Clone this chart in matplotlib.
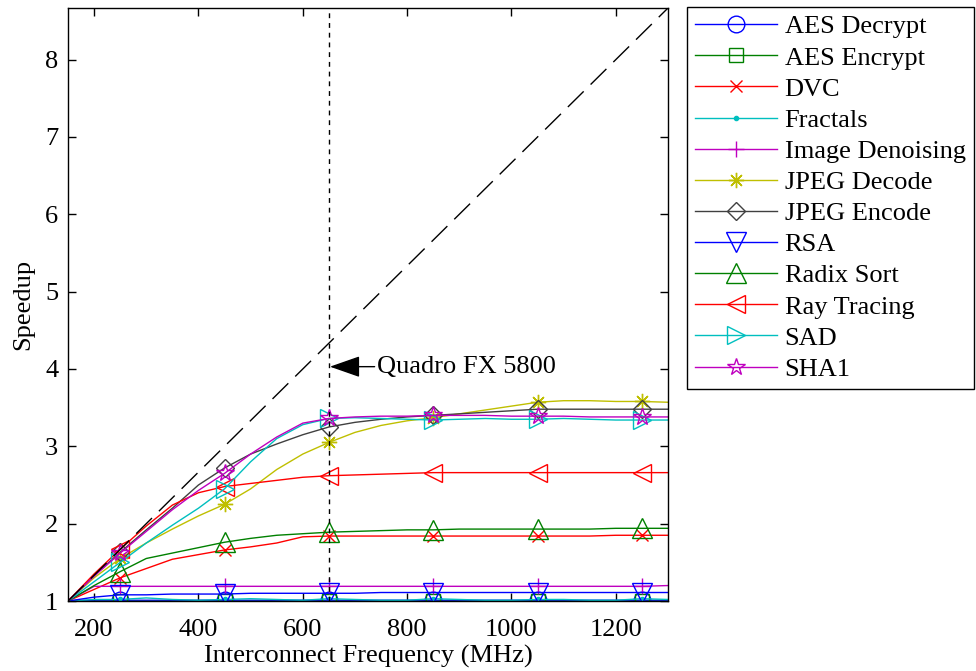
import matplotlib
matplotlib.use('Agg')
import matplotlib.pyplot as plt

plt.rcParams['font.family'] = ['Liberation Serif', 'DejaVu Serif']
plt.rcParams['font.size'] = 19

freq = [150, 200, 250, 300, 350, 400, 450, 500, 550, 600, 650, 700,
        750, 800, 850, 900, 950, 1000, 1050, 1100, 1150, 1200, 1250, 1300]

aes_decrypt = [1.0, 1.01, 1.01, 1.01, 1.01, 1.01, 1.01, 1.01, 1.01, 1.01, 1.01, 1.01,
               1.01, 1.01, 1.01, 1.01, 1.01, 1.01, 1.01, 1.01, 1.01, 1.01, 1.01, 1.01]
aes_encrypt = [1.0, 1.0, 1.0, 1.0, 1.0, 1.0, 1.0, 1.0, 1.0, 1.0, 1.0, 1.0,
               1.0, 1.0, 1.0, 1.0, 1.0, 1.0, 1.0, 1.0, 1.0, 1.0, 1.0, 1.0]
dvc = [1.0, 1.15, 1.3, 1.42, 1.54, 1.6, 1.66, 1.7, 1.75, 1.83, 1.84, 1.84,
       1.84, 1.84, 1.84, 1.84, 1.84, 1.84, 1.84, 1.84, 1.84, 1.85, 1.85, 1.85]
fractals = [1.0, 1.02, 1.02, 1.04, 1.02, 1.01, 1.02, 1.03, 1.02, 1.01, 1.03, 1.02,
            1.01, 1.01, 1.03, 1.02, 1.01, 1.01, 1.02, 1.02, 1.01, 1.01, 1.03, 1.02]
denoise = [1.0, 1.19, 1.19, 1.19, 1.19, 1.19, 1.19, 1.19, 1.19, 1.19, 1.19, 1.19,
           1.19, 1.19, 1.19, 1.19, 1.19, 1.19, 1.19, 1.19, 1.19, 1.19, 1.19, 1.2]
jpeg_dec = [1.0, 1.3, 1.55, 1.75, 1.93, 2.1, 2.25, 2.45, 2.7, 2.9, 3.05, 3.18,
            3.27, 3.33, 3.37, 3.42, 3.47, 3.52, 3.57, 3.59, 3.59, 3.58, 3.58, 3.57]
jpeg_enc = [1.0, 1.33, 1.63, 1.92, 2.2, 2.5, 2.72, 2.9, 3.03, 3.15, 3.25, 3.31,
            3.35, 3.38, 3.4, 3.42, 3.44, 3.46, 3.48, 3.48, 3.48, 3.48, 3.48, 3.48]
rsa = [1.0, 1.05, 1.08, 1.08, 1.09, 1.09, 1.09, 1.1, 1.1, 1.1, 1.1, 1.1,
       1.11, 1.11, 1.11, 1.11, 1.11, 1.11, 1.11, 1.11, 1.11, 1.11, 1.11, 1.11]
radix = [1.0, 1.2, 1.38, 1.55, 1.62, 1.69, 1.76, 1.81, 1.85, 1.87, 1.89, 1.9,
         1.91, 1.92, 1.92, 1.93, 1.93, 1.93, 1.93, 1.93, 1.93, 1.94, 1.94, 1.94]
ray = [1.0, 1.35, 1.67, 1.97, 2.24, 2.4, 2.48, 2.52, 2.56, 2.6, 2.62, 2.63,
       2.64, 2.65, 2.66, 2.66, 2.66, 2.66, 2.66, 2.66, 2.66, 2.66, 2.66, 2.66]
sad = [1.0, 1.25, 1.5, 1.75, 1.98, 2.2, 2.45, 2.8, 3.1, 3.28, 3.36, 3.37,
       3.36, 3.35, 3.34, 3.35, 3.36, 3.35, 3.35, 3.36, 3.35, 3.34, 3.34, 3.34]
sha1 = [1.0, 1.32, 1.62, 1.9, 2.18, 2.43, 2.65, 2.9, 3.12, 3.3, 3.36, 3.38,
        3.39, 3.39, 3.4, 3.4, 3.4, 3.39, 3.39, 3.39, 3.38, 3.38, 3.38, 3.38]

names = ['AES Decrypt', 'AES Encrypt', 'DVC', 'Fractals', 'Image Denoising',
         'JPEG Decode', 'JPEG Encode', 'RSA', 'Radix Sort', 'Ray Tracing', 'SAD', 'SHA1']
series = [aes_decrypt, aes_encrypt, dvc, fractals, denoise, jpeg_dec, jpeg_enc,
          rsa, radix, ray, sad, sha1]
colors = ['#0000ff', '#008000', '#ff0000', '#00bfbf', '#bf00bf', '#bfbf00', '#404040',
          '#0000ff', '#008000', '#ff0000', '#00bfbf', '#bf00bf']
markers = ['o', 's', 'x', '.', '+', (8, 2, 0), 'D', 'v', '^', '<', '>', '*']
msizes = [12, 9.5, 8, 6, 12, 11, 9.5, 14, 14, 13.5, 13.5, 13]

fig = plt.figure(figsize=(9.76, 6.71), dpi=100)
ax = fig.add_axes([0.0697, 0.1043, 0.6147, 0.8837])

for name, ys, c, m, ms in zip(names, series, colors, markers, msizes):
    face = c if m == '.' else 'none'
    ax.plot(freq, ys, color=c, lw=1.0, marker=m, ms=ms, mfc=face, mec=c,
            mew=1.0, markevery=(2, 4), label=name)

# ideal speedup (linear in frequency)
ideal_x = [150, 1300]
ideal_y = [f / 150.0 for f in ideal_x]
ax.plot(ideal_x, ideal_y, color='k', lw=1.0, ls=(0, (16, 7)))

ax.axvline(650, color='k', lw=1.0, ls=(0, (3.5, 3.5)))
ax.annotate('Quadro FX 5800', xy=(652, 4.03), xytext=(743, 4.03),
            va='center', ha='left',
            arrowprops=dict(arrowstyle='-|>,head_length=1.0,head_width=0.35',
                            color='k', lw=1.0, shrinkA=0, shrinkB=0))

ax.set_xlim(150, 1300)
ax.set_ylim(1, 1300 / 150.0)
ax.set_xticks([200, 400, 600, 800, 1000, 1200])
ax.set_yticks([1, 2, 3, 4, 5, 6, 7, 8])
ax.tick_params(direction='in', top=True, right=True, length=6, width=1)
ax.tick_params(axis='x', pad=13)
ax.tick_params(axis='y', pad=7)
for s in ax.spines.values():
    s.set_linewidth(1.0)
ax.set_xlabel('Interconnect Frequency (MHz)', labelpad=3)
ax.set_ylabel('Speedup', labelpad=8)

leg = ax.legend(loc='upper left', bbox_to_anchor=(687 / 976, 1 - 7 / 671),
                bbox_transform=fig.transFigure, fancybox=False, framealpha=1,
                edgecolor='k', borderpad=0.3, labelspacing=0.29, handlelength=3.1,
                handletextpad=0.3, borderaxespad=0, fontsize=19)
leg.get_frame().set_linewidth(1.0)

plt.savefig('out.png', dpi=100)
plt.close()
